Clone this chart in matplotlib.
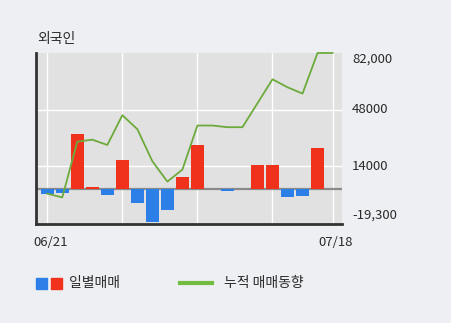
"""
외국인 일별매매 / 누적 매매동향 차트 재현
"""

import matplotlib
matplotlib.use('Agg')  # Без GUI

import matplotlib.pyplot as plt
import matplotlib.transforms as mtransforms
from matplotlib.patches import Rectangle
from matplotlib.lines import Line2D
import numpy as np

plt.rcParams['font.family'] = ['Noto Sans CJK KR', 'DejaVu Sans']

# данные
dates = ["06/21", "", "", "", "", "", "", "", "", "", "", "", "", "", "", "", "", "", "", "07/18"]
daily = [-2600, -2200, 33500, 1200, -3200, 17900, -8400, -19300, -12200, 7200,
         26500, 0, -1000, 0, 14400, 14400, -4800, -3800, 24700, 0]
cumulative = [-2600, -4800, 28700, 29900, 26700, 44600, 36200, 16900, 4700, 11900,
              38400, 38400, 37400, 37400, 51800, 66200, 61400, 57600, 82000, 82000]
ytick_values = [82000, 48000, 14000, -19300]
ytick_labels = ["82,000", "48000", "14000", "-19,300"]

RED = "#f0311c"
BLUE = "#2b7fe6"
GREEN = "#6daa3c"
GREEN_LEGEND = "#72bd3f"
FIG_BG = "#eeeff3"
AX_BG = "#e1e1e1"
TEXT = "#2a2a2a"

fig = plt.figure(figsize=(4.51, 3.23), dpi=100, facecolor=FIG_BG)
ax = fig.add_axes([36 / 451, 1 - 224 / 323, 306 / 451, 171 / 323])
ax.set_facecolor(AX_BG)

x = np.arange(len(daily))
colors = [RED if v > 0 else BLUE for v in daily]
ax.bar(x, daily, width=0.87, color=colors, zorder=3)
ax.axhline(0, color="#8a8a8a", linewidth=1.6, zorder=2)
ax.plot(x, cumulative, color=GREEN, linewidth=1.3, zorder=4, clip_on=False)

ax.set_xlim(-0.75, 19.63)
ax.set_ylim(-20800, 82000)

# сетка
ax.set_xticks([0, 5, 10, 15, 19])
ax.set_xticklabels(["", "", "", "", ""])
ax.set_yticks([48000, 14000])
ax.set_yticklabels([])
ax.grid(True, color="white", linewidth=1.0, zorder=1)
ax.set_axisbelow(True)
ax.tick_params(length=0)

for side in ["top", "right"]:
    ax.spines[side].set_visible(False)
for side in ["left", "bottom"]:
    ax.spines[side].set_color("#333333")
    ax.spines[side].set_linewidth(2)

# подписи справа
trans = mtransforms.blended_transform_factory(ax.transAxes, ax.transData)
for value, label in zip(ytick_values, ytick_labels):
    va = "center"
    if value == ytick_values[0]:
        va = "top"
    elif value == ytick_values[-1]:
        va = "bottom"
    ax.text(1.033, value, label, transform=trans, ha="left", va=va,
            fontsize=9.5, color=TEXT)

# даты
date_trans = mtransforms.blended_transform_factory(ax.transData, ax.transAxes)
for index, label in enumerate(dates):
    if label:
        ax.text(index + 0.2, -0.07, label, transform=date_trans,
                ha="center", va="top", fontsize=9.5, color=TEXT)

fig.text(37 / 451, 1 - 39 / 323, "외국인", ha="left", va="center", fontsize=10, color=TEXT)

# легенда
fig.patches.append(Rectangle((36 / 451, 1 - 289 / 323), 11 / 451, 11 / 323,
                             transform=fig.transFigure, color=BLUE))
fig.patches.append(Rectangle((51 / 451, 1 - 289 / 323), 11 / 451, 11 / 323,
                             transform=fig.transFigure, color=RED))
fig.text(69 / 451, 1 - 283 / 323, "일별매매", ha="left", va="center", fontsize=10, color=TEXT)
fig.lines.append(Line2D([180 / 451, 212 / 451], [1 - 283 / 323, 1 - 283 / 323],
                        transform=fig.transFigure, color=GREEN_LEGEND, linewidth=3))
fig.text(224 / 451, 1 - 283 / 323, "누적 매매동향", ha="left", va="center", fontsize=10, color=TEXT)

plt.savefig("out.png", dpi=100, facecolor=FIG_BG)
plt.close()
